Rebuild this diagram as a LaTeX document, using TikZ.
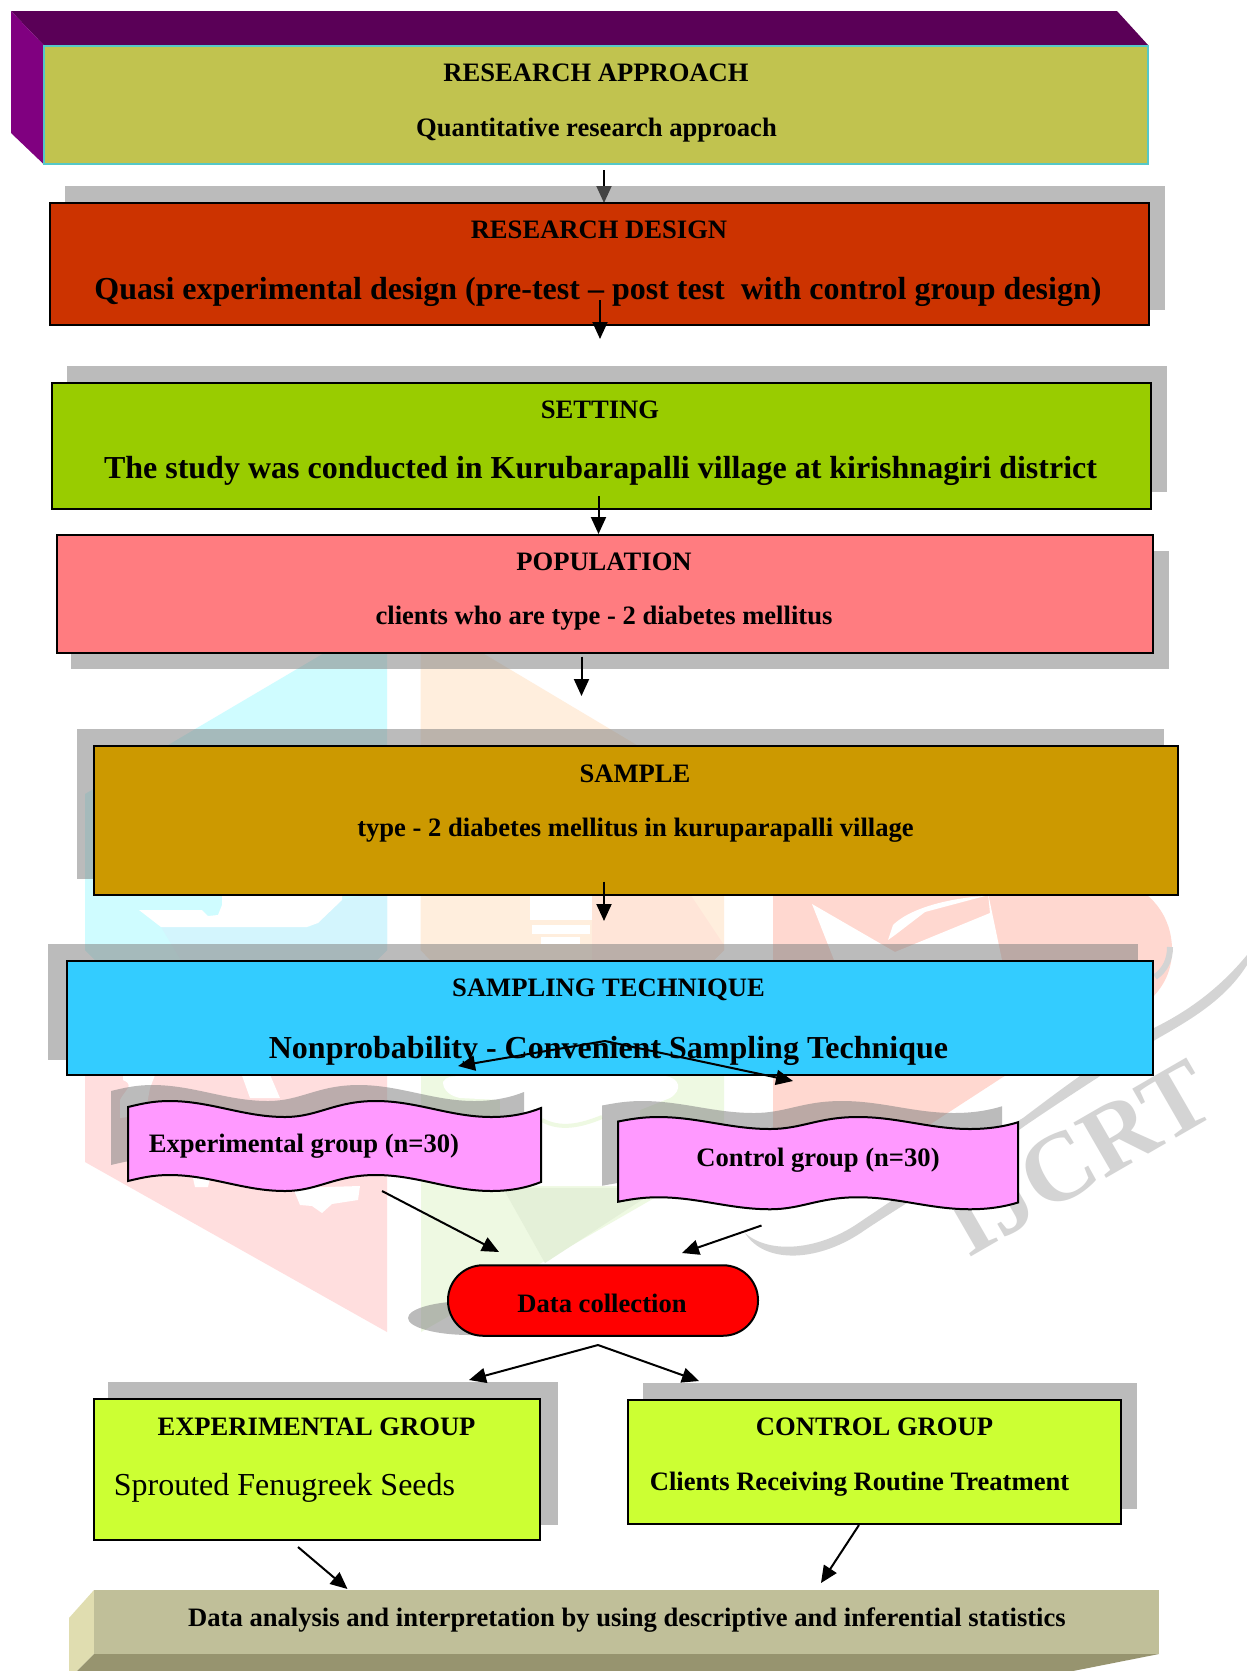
\documentclass[tikz,border=0pt]{standalone}
\usepackage{fontspec}
\setmainfont{Liberation Serif}
\usetikzlibrary{arrows.meta}
\usetikzlibrary{positioning}
\definecolor{purpletop}{HTML}{5A0057}
\definecolor{purpleleft}{HTML}{800080}
\definecolor{approachfill}{HTML}{C1C34F}
\definecolor{approachline}{HTML}{55C8C8}
\definecolor{designfill}{HTML}{CC3300}
\definecolor{settingfill}{HTML}{99CC00}
\definecolor{populationfill}{HTML}{FF7C80}
\definecolor{samplefill}{HTML}{CC9900}
\definecolor{techniquefill}{HTML}{33CCFF}
\definecolor{flagfill}{HTML}{FF99FF}
\definecolor{groupfill}{HTML}{CCFF33}
\definecolor{analysisfront}{HTML}{C0BF99}
\definecolor{analysisleft}{HTML}{E0DDB0}
\definecolor{analysisbottom}{HTML}{97946F}
\definecolor{markcyan}{HTML}{CFFCFF}
\definecolor{markblue}{HTML}{D3F5FD}
\definecolor{markpeach}{HTML}{FFEEDD}
\definecolor{markrose}{HTML}{FFE5D8}
\definecolor{markpink}{HTML}{FFDEDE}
\definecolor{markgreen}{HTML}{EEF9E2}
\definecolor{markleaf}{HTML}{E4F0D8}
\definecolor{marksalmon}{HTML}{FFD8D0}
\definecolor{markgray}{HTML}{D4D4D4}
\newcommand{\flagpath}[1]{(0,6) .. controls (3,3) and (6,0) .. (10,0) .. controls (20,0) and (28,16) .. (38,16) .. controls (46,16) and (50,0) .. (60,0) .. controls (70,0) and (78,16) .. (88,16) .. controls (93,16) and (97,12) .. (100,7) -- (100,7+#1) .. controls (97,12+#1) and (93,16+#1) .. (88,16+#1) .. controls (78,16+#1) and (70,#1) .. (60,#1) .. controls (50,#1) and (46,16+#1) .. (38,16+#1) .. controls (28,16+#1) and (20,#1) .. (10,#1) .. controls (6,#1) and (3,3+#1) .. (0,6+#1) -- cycle}
\begin{document}
\begin{tikzpicture}
	[x=1pt,y=-1pt,
	flowbox/.style={draw=black,line width=2pt,inner sep=0pt},
	shadowbox/.style={fill=black!50,fill opacity=0.53},
	flowarrow/.style={-{Triangle[length=17pt,width=15pt]},line width=2pt},
	smalltxt/.style={font=\fontsize{26.6}{30}\selectfont\bfseries,inner sep=0pt},
	bigtxt/.style={font=\fontsize{32}{36}\selectfont\bfseries,inner sep=0pt},
	plaintxt/.style={font=\fontsize{32}{36}\selectfont,inner sep=0pt}]
	\useasboundingbox (0,0) rectangle (1247,1671);
	\fill[white] (0,0) rectangle (1247,1671);
	\fill[markcyan] (387,616) -- (85,794) -- (85,950) -- (95,960) -- (377,960) -- (387,950) -- cycle;
	\fill[markblue] (161,927) -- (181,960) -- (377,960) -- (387,950) -- (387,890) -- (342,900) -- (310,927) -- cycle;
	\fill[white] (139,910) -- (202,910) -- (208,916) -- (218,915) -- (222,905) -- (222,885) -- (342,885) -- (342,900) -- (318,923) -- (307,927) -- (161,927) -- cycle;
	\fill[markpeach] (420.5,616) -- (724,797) -- (724,950) -- (714,960) -- (430,960) -- (420.5,950) -- cycle;
	\fill[markrose] (592,885) -- (684,885) -- (724,945) -- (724,950) -- (714,960) -- (592,960) -- cycle;
	\fill[white] (530,880) rectangle (592,920);
	\fill[white] (532,925) rectangle (590,934);
	\fill[white] (541,937) rectangle (580,944);
	\fill[marksalmon] (773,880) -- (1120,880) .. controls (1150,890) and (1172,915) .. (1172,950) .. controls (1172,975) and (1160,990) .. (1150,1000) -- (1003,1077) -- (860,1170) -- (773,1190) -- cycle;
	\fill[white] (812,904) -- (895,952) -- (990,913) -- (988,893) -- (1003,965) -- (836,965) -- cycle;
	\fill[white] (888,940) -- (893,925) .. controls (910,908) and (950,898) .. (985,896) -- (925,912) -- (895,935) -- cycle;
	\fill[markpink] (85,1070) -- (387,1070) -- (387,1332) -- (85,1162) -- cycle;
	\fill[white] (123,1070) -- (157,1070) -- (150,1088) -- (145,1115) -- (120,1118) -- (120,1100) .. controls (125,1090) and (135,1085) .. (123,1080) -- cycle;
	\fill[white] (240,1070) -- (268,1070) -- (280,1098) -- (250,1098) -- cycle;
	\fill[white] (293,1188) -- (360,1186) -- (358,1200) -- (332,1204) -- (322,1213) -- (312,1206) -- (300,1205) -- cycle;
	\fill[white] (193,1178) -- (210,1178) -- (208,1187) -- (195,1187) -- cycle;
	\fill[markgreen] (421,1070) -- (724,1070) -- (724,1158) -- (421,1332) -- cycle;
	\fill[markleaf] (503,1188) -- (660,1188) -- (545,1263) -- cycle;
	\fill[white] (443,1082) .. controls (445,1076) and (455,1076) .. (465,1076) -- (665,1076) .. controls (680,1078) and (683,1090) .. (670,1098) -- (640,1110) -- (640,1186) -- (500,1186) -- (500,1100) -- (460,1098) .. controls (450,1096) and (443,1090) .. (443,1082) -- cycle;
	\draw[markgreen,line width=4pt] (542,1120) .. controls (560,1130) and (580,1126) .. (602,1117);
	\fill[markgray] (1247,955) .. controls (1210,1000) and (1170,1020) .. (1150,1030) .. controls (1100,1060) and (1060,1090) .. (1023,1118) .. controls (960,1155) and (900,1195) .. (860,1222) .. controls (820,1250) and (770,1255) .. (745,1233) .. controls (765,1265) and (820,1262) .. (865,1230) .. controls (910,1200) and (970,1165) .. (1026,1125) .. controls (1070,1095) and (1110,1070) .. (1155,1040) .. controls (1190,1020) and (1225,1000) .. (1247,965) -- cycle;
	\draw[markgray,line width=6pt] (1170,947) .. controls (1170,960) and (1165,970) .. (1155,977);
	\node[rotate=30,text=markgray,font=\fontsize{98}{110}\selectfont\bfseries,inner sep=0pt] (ijcrt) at (1078,1158) {IJCRT};
	\coordinate (arrowastart) at (604,170);
	\coordinate (arrowaend) at (604,203);
	\draw[flowarrow] (arrowastart) -- (arrowaend);
	\fill[shadowbox] (64.5,186) rectangle (1165,310);
	\fill[shadowbox] (67,366) rectangle (1167,492);
	\fill[shadowbox] (71,551) rectangle (1169,669);
	\fill[shadowbox] (77,729) rectangle (1164,879);
	\fill[shadowbox] (48,944) rectangle (1138,1060);
	\begin{scope}[shift={(111,1085)},xscale=4.13]
		\fill[shadowbox] \flagpath{74};
	\end{scope}
	\begin{scope}[shift={(602,1101)},xscale=4.0,yscale=0.75]
		\fill[shadowbox] \flagpath{107};
	\end{scope}
	\fill[shadowbox] (108,1382) rectangle (557.5,1525);
	\fill[shadowbox] (642.5,1383) rectangle (1137,1509);
	\fill[black!50,opacity=0.53] (470,1318) ellipse (62 and 17);
	\fill[purpletop] (11,11) -- (1117,11) -- (1148,45) -- (43.5,45) -- cycle;
	\fill[purpleleft] (11,11) -- (43.5,45) -- (43.5,164) -- (11,133) -- cycle;
	\node[draw=approachline,fill=approachfill,line width=2pt,inner sep=0pt,minimum width=1104.5pt,minimum height=118pt] (approach) at (595.75,105) {};
	\node[flowbox,fill=designfill,minimum width=1099pt,minimum height=122.5pt] (design) at (599.5,264) {};
	\node[flowbox,fill=settingfill,minimum width=1099pt,minimum height=126pt] (setting) at (601.5,445.5) {};
	\node[flowbox,fill=populationfill,minimum width=1096.5pt,minimum height=118pt] (population) at (604.75,594) {};
	\node[flowbox,fill=samplefill,minimum width=1084pt,minimum height=149pt] (sample) at (636,820.25) {};
	\node[flowbox,fill=techniquefill,minimum width=1086pt,minimum height=114pt] (technique) at (610,1018) {};
	\node[flowbox,fill=groupfill,minimum width=445.5pt,minimum height=140.5pt] (expgroup) at (317,1469.5) {};
	\node[flowbox,fill=groupfill,minimum width=493pt,minimum height=124.5pt] (ctrlgroup) at (874.5,1461.75) {};
	\begin{scope}[shift={(128,1101)},xscale=4.13]
		\filldraw[fill=flagfill,draw=black,line width=2pt] \flagpath{74};
	\end{scope}
	\begin{scope}[shift={(618,1117)},xscale=4.0,yscale=0.75]
		\filldraw[fill=flagfill,draw=black,line width=2pt] \flagpath{107};
	\end{scope}
	\node[flowbox,fill=red,rounded corners=35pt,minimum width=310pt,minimum height=70.5pt] (collection) at (603,1300.5) {};
	\fill[analysisleft] (94,1590) -- (69,1618) -- (69,1671) -- (77,1671) -- (94,1654) -- cycle;
	\fill[analysisbottom] (94,1654) -- (1159,1654) -- (1073,1671) -- (77,1671) -- cycle;
	\node[fill=analysisfront,inner sep=0pt,minimum width=1065pt,minimum height=64pt] (analysis) at (626.5,1622) {};
	\node[smalltxt] (approachhead) at (596,72.5) {RESEARCH APPROACH};
	\node[smalltxt] (approachtext) at (596.5,130) {Quantitative research approach};
	\node[smalltxt] (designhead) at (599,230) {RESEARCH DESIGN};
	\node[bigtxt] (designtext) at (598,292) {Quasi experimental design (pre-test -- post test~~with control group design)};
	\node[smalltxt] (settinghead) at (600,410) {SETTING};
	\node[bigtxt] (settingtext) at (600.5,471) {The study was conducted in Kurubarapalli village at kirishnagiri district};
	\node[smalltxt] (populationhead) at (604,561.5) {POPULATION};
	\node[smalltxt] (populationtext) at (604,618) {clients who are type - 2 diabetes mellitus};
	\node[smalltxt] (samplehead) at (635,774) {SAMPLE};
	\node[smalltxt] (sampletext) at (635.5,830) {type - 2 diabetes mellitus in kuruparapalli village};
	\node[smalltxt] (techniquehead) at (608.5,990) {SAMPLING TECHNIQUE};
	\node[bigtxt] (techniquetext) at (608.5,1050.5) {Nonprobability - Convenient Sampling Technique};
	\node[smalltxt] (explabel) at (304,1146.5) {Experimental group (n=30)};
	\node[smalltxt] (ctrllabel) at (818,1160) {Control group (n=30)};
	\node[smalltxt] (collectionlabel) at (602,1303.5) {Data collection};
	\node[smalltxt] (exphead) at (316.5,1427) {EXPERIMENTAL GROUP};
	\node[plaintxt] (exptext) at (284.5,1488) {Sprouted Fenugreek Seeds};
	\node[smalltxt] (ctrlhead) at (874.5,1427) {CONTROL GROUP};
	\node[smalltxt] (ctrltext) at (859.5,1484) {Clients Receiving Routine Treatment};
	\node[smalltxt] (analysistext) at (627,1620) {Data analysis and interpretation by using descriptive and inferential statistics};
	\coordinate (arrowbstart) at (600,300);
	\coordinate (arrowbend) at (600,339);
	\coordinate (arrowcstart) at (598.5,496);
	\coordinate (arrowcend) at (598.5,534);
	\coordinate (arrowdstart) at (581.5,656.5);
	\coordinate (arrowdend) at (581.5,696);
	\coordinate (arrowestart) at (604,881.5);
	\coordinate (arrowdone) at (604,921);
	\coordinate (forkup) at (605,1041);
	\coordinate (forkupl) at (458,1066);
	\coordinate (forkupr) at (793,1081);
	\coordinate (expout) at (382,1191);
	\coordinate (expin) at (499,1252);
	\coordinate (ctrlout) at (761.5,1225.5);
	\coordinate (ctrlin) at (682,1253);
	\coordinate (forkdown) at (598,1345);
	\coordinate (forkdownl) at (469,1380);
	\coordinate (forkdownr) at (699,1381);
	\coordinate (expstart) at (298,1547);
	\coordinate (expend) at (347.5,1589);
	\coordinate (ctrlstart) at (859,1525);
	\coordinate (ctrlend) at (821,1583);
	\draw[flowarrow] (arrowbstart) -- (arrowbend);
	\draw[flowarrow] (arrowcstart) -- (arrowcend);
	\draw[flowarrow] (arrowdstart) -- (arrowdend);
	\draw[flowarrow] (arrowestart) -- (arrowdone);
	\draw[flowarrow] (forkup) -- (forkupl);
	\draw[flowarrow] (forkup) -- (forkupr);
	\draw[flowarrow] (expout) -- (expin);
	\draw[flowarrow] (ctrlout) -- (ctrlin);
	\draw[flowarrow] (forkdown) -- (forkdownl);
	\draw[flowarrow] (forkdown) -- (forkdownr);
	\draw[flowarrow] (expstart) -- (expend);
	\draw[flowarrow] (ctrlstart) -- (ctrlend);
\end{tikzpicture}
\end{document}
